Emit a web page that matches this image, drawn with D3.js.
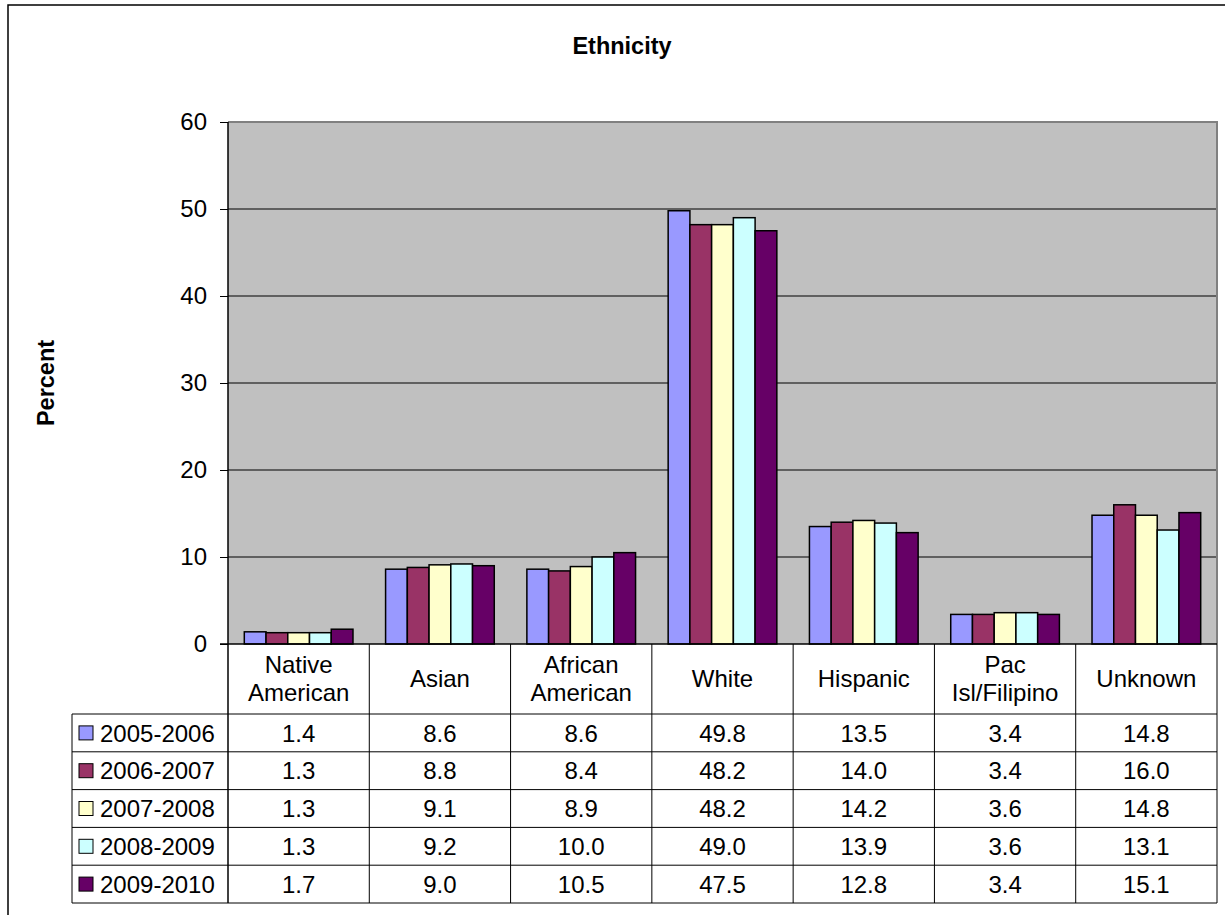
<!DOCTYPE html>
<html>
<head>
<meta charset="utf-8">
<script src="https://cdn.jsdelivr.net/npm/d3@7"></script>
<style>
  html, body { margin: 0; padding: 0; background: #fff; }
  svg { display: block; font-family: "Liberation Sans", Arial, Helvetica, sans-serif; }
</style>
</head>
<body>
<svg id="chart" width="1225" height="915"></svg>
<script>
// Ethnic composition by school year (percent)
const categories = [["Native", "American"], ["Asian"], ["African", "American"], ["White"], ["Hispanic"], ["Pac", "Isl/Filipino"], ["Unknown"]];
const seriesNames = ["2005-2006", "2006-2007", "2007-2008", "2008-2009", "2009-2010"];
const seriesColors = ["#9999FF", "#993366", "#FFFFCC", "#CCFFFF", "#660066"];
const values2005 = [1.4, 8.6, 8.6, 49.8, 13.5, 3.4, 14.8];
const values2006 = [1.3, 8.8, 8.4, 48.2, 14.0, 3.4, 16.0];
const values2007 = [1.3, 9.1, 8.9, 48.2, 14.2, 3.6, 14.8];
const values2008 = [1.3, 9.2, 10.0, 49.0, 13.9, 3.6, 13.1];
const values2009 = [1.7, 9.0, 10.5, 47.5, 12.8, 3.4, 15.1];
const yTicks = [0, 10, 20, 30, 40, 50, 60];

const seriesValues = [values2005, values2006, values2007, values2008, values2009];
const catKeys = categories.map(c => c.join(" "));

const svg = d3.select("#chart");
const FS = 24;

// layout
const plot = { left: 228, right: 1217, top: 122, bottom: 644 };
const tableLeft = 72;
const headerBottom = 714;
const tableBottom = 903;
const rowH = (tableBottom - headerBottom) / seriesNames.length;

// outer chart frame
svg.append("rect")
  .attr("x", 8).attr("y", 5).attr("width", 1240).attr("height", 940)
  .attr("fill", "none").attr("stroke", "#000").attr("stroke-width", 1.5);

// scales
const x0 = d3.scaleBand().domain(catKeys).range([plot.left, plot.right]).padding(0);
const bw = x0.bandwidth();
const x1 = d3.scaleBand().domain(seriesNames)
  .range([bw * 0.75 / 6.5, bw * 5.75 / 6.5]).padding(0);
const y = d3.scaleLinear().domain([0, 60]).range([plot.bottom, plot.top]);

// plot background
svg.append("rect")
  .attr("x", plot.left).attr("y", plot.top)
  .attr("width", plot.right - plot.left).attr("height", plot.bottom - plot.top)
  .attr("fill", "#C0C0C0");

// gridlines
svg.append("g").selectAll("line")
  .data(yTicks.filter(t => t > 0 && t < 60))
  .join("line")
  .attr("x1", plot.left).attr("x2", plot.right)
  .attr("y1", d => y(d)).attr("y2", d => y(d))
  .attr("stroke", "#000").attr("stroke-width", 1);

// plot border (top and right)
svg.append("path")
  .attr("d", `M${plot.left},${plot.top}H${plot.right}V${plot.bottom}`)
  .attr("fill", "none").attr("stroke", "#808080").attr("stroke-width", 2);

// bars
const groups = svg.append("g").selectAll("g")
  .data(catKeys)
  .join("g")
  .attr("transform", d => `translate(${x0(d)},0)`);

groups.selectAll("rect")
  .data((d, ci) => seriesNames.map((s, si) => ({ s, v: seriesValues[si][ci], c: seriesColors[si] })))
  .join("rect")
  .attr("x", d => x1(d.s))
  .attr("y", d => y(d.v))
  .attr("width", x1.bandwidth())
  .attr("height", d => y(0) - y(d.v))
  .attr("fill", d => d.c)
  .attr("stroke", "#000")
  .attr("stroke-width", 1.5);

// y axis
const yAxis = d3.axisLeft(y).tickValues(yTicks).tickSize(8).tickPadding(13).tickFormat(d3.format("d"));
const ya = svg.append("g").attr("transform", `translate(${plot.left},0)`).call(yAxis);
ya.select(".domain").remove();
ya.selectAll(".tick line").attr("stroke", "#000");
ya.selectAll(".tick text")
  .attr("font-size", FS).attr("fill", "#000")
  .attr("font-family", "Liberation Sans, Arial, sans-serif");

// axis lines
svg.append("line")
  .attr("x1", plot.left).attr("x2", plot.left)
  .attr("y1", plot.top).attr("y2", tableBottom)
  .attr("stroke", "#000").attr("stroke-width", 1.5);
svg.append("line")
  .attr("x1", plot.left - 8).attr("x2", plot.right)
  .attr("y1", plot.bottom).attr("y2", plot.bottom)
  .attr("stroke", "#000").attr("stroke-width", 1.5);

// data table
const table = svg.append("g");

// vertical separators between categories
table.selectAll("line.vsep")
  .data(catKeys.map(k => x0(k)).concat([plot.right]).slice(1))
  .join("line")
  .attr("class", "vsep")
  .attr("x1", d => d).attr("x2", d => d)
  .attr("y1", plot.bottom).attr("y2", tableBottom)
  .attr("stroke", "#000").attr("stroke-width", 1);

// horizontal row lines
const rowLines = d3.range(seriesNames.length + 1).map(i => headerBottom + i * rowH);
table.selectAll("line.hrow")
  .data(rowLines)
  .join("line")
  .attr("class", "hrow")
  .attr("x1", tableLeft).attr("x2", plot.right)
  .attr("y1", d => d).attr("y2", d => d)
  .attr("stroke", "#000").attr("stroke-width", 1);

// legend column left edge
table.append("line")
  .attr("x1", tableLeft).attr("x2", tableLeft)
  .attr("y1", headerBottom).attr("y2", tableBottom)
  .attr("stroke", "#000").attr("stroke-width", 1);

// header labels
const hdr = table.selectAll("text.hdr")
  .data(categories)
  .join("text")
  .attr("class", "hdr")
  .attr("text-anchor", "middle")
  .attr("font-size", FS)
  .attr("fill", "#000");
hdr.each(function(lines, i) {
  const cx = x0(catKeys[i]) + bw / 2;
  const mid = (plot.bottom + headerBottom) / 2;
  const lh = 28;
  const t = d3.select(this);
  lines.forEach((ln, j) => {
    t.append("tspan")
      .attr("x", cx)
      .attr("y", mid + (j - (lines.length - 1) / 2) * lh)
      .attr("dy", "0.35em")
      .text(ln);
  });
});

// legend cells
const legendRows = table.selectAll("g.leg")
  .data(seriesNames)
  .join("g")
  .attr("class", "leg")
  .attr("transform", (d, i) => `translate(0,${headerBottom + i * rowH + rowH / 2})`);
legendRows.append("rect")
  .attr("x", 79).attr("y", -7).attr("width", 14).attr("height", 14)
  .attr("fill", (d, i) => seriesColors[i])
  .attr("stroke", "#000").attr("stroke-width", 1);
legendRows.append("text")
  .attr("x", 100).attr("dy", "0.36em")
  .attr("font-size", FS).attr("fill", "#000")
  .text(d => d);

// value cells
seriesValues.forEach((vals, si) => {
  table.append("g").selectAll("text")
    .data(vals)
    .join("text")
    .attr("x", (d, ci) => x0(catKeys[ci]) + bw / 2)
    .attr("y", headerBottom + si * rowH + rowH / 2)
    .attr("dy", "0.36em")
    .attr("text-anchor", "middle")
    .attr("font-size", FS).attr("fill", "#000")
    .text(d => d3.format(".1f")(d));
});

// title
svg.append("text")
  .attr("x", 622).attr("y", 54)
  .attr("text-anchor", "middle")
  .attr("font-size", 23.5).attr("font-weight", "bold")
  .text("Ethnicity");

// y axis title
svg.append("text")
  .attr("transform", "translate(54,383) rotate(-90)")
  .attr("text-anchor", "middle")
  .attr("font-size", 23.5).attr("font-weight", "bold")
  .text("Percent");
</script>
</body>
</html>
